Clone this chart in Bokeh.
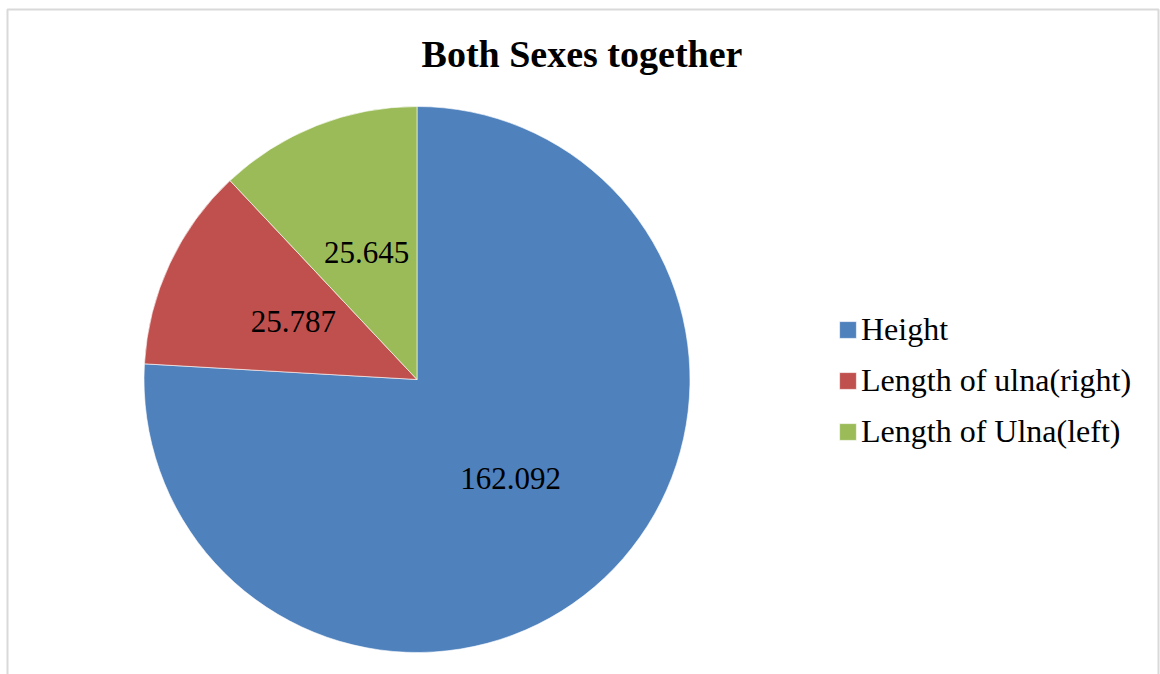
import numpy as np
from bokeh.plotting import figure
from bokeh.models import ColumnDataSource, Legend, LegendItem, Label, BoxAnnotation, Range1d
from bokeh.embed import file_html
from bokeh.resources import INLINE

# ---- data ----
categories = ["Height", "Length of ulna(right)", "Length of Ulna(left)"]
values = [162.092, 25.787, 25.645]
labels = ["162.092", "25.787", "25.645"]
colors = ["#4F81BD", "#C0504D", "#9BBB59"]
title_text = "Both Sexes together"

W, H = 1160, 674
cx, cy, R = 416.5, H - 379, 273

vals = np.array(values, dtype=float)
frac = vals / vals.sum()
cum = np.concatenate([[0.0], np.cumsum(frac)])
# clockwise from 12 o'clock
start = np.pi / 2 - cum[1:] * 2 * np.pi
end = np.pi / 2 - cum[:-1] * 2 * np.pi
mid = (start + end) / 2

src = ColumnDataSource(dict(
    cat=categories, start=start, end=end, color=colors,
    lx=cx + 0.5 * R * np.cos(mid), ly=cy + 0.5 * R * np.sin(mid), lab=labels,
))

p = figure(width=W, height=H, output_backend="svg", toolbar_location=None,
           x_axis_type=None, y_axis_type=None, min_border=0,
           x_range=Range1d(0, W), y_range=Range1d(0, H))
p.grid.visible = False
p.outline_line_color = None
p.background_fill_color = "white"
p.border_fill_color = "white"

# chart area border
p.add_layout(BoxAnnotation(left=7, right=1158, top=H - 9, bottom=-20,
                           fill_alpha=0, line_color="#808080", line_width=2))

r = p.wedge(x=cx, y=cy, radius=R, start_angle="start", end_angle="end",
            fill_color="color", line_color="white", line_width=0.6,
            source=src)

p.text(x="lx", y="ly", text="lab", source=src, text_align="center",
       text_baseline="middle", text_font_size="31px",
       text_font={"value": "Liberation Serif"}, text_color="black")

p.add_layout(Label(x=581.5, y=H - 53, text=title_text, text_align="center",
                   text_baseline="middle", text_font="Liberation Serif",
                   text_font_size="38px", text_font_style="bold", text_color="black"))

items = [LegendItem(label=c, renderers=[r], index=i) for i, c in enumerate(categories)]
legend = Legend(items=items, location=(837, H - 450), padding=0, margin=0,
                border_line_color=None, background_fill_alpha=0,
                glyph_width=21, glyph_height=21, label_standoff=3, spacing=14,
                label_text_font="Liberation Serif", label_text_font_size="32px",
                label_text_color="black")
p.add_layout(legend)

open("out.html", "w").write(file_html(p, INLINE))
